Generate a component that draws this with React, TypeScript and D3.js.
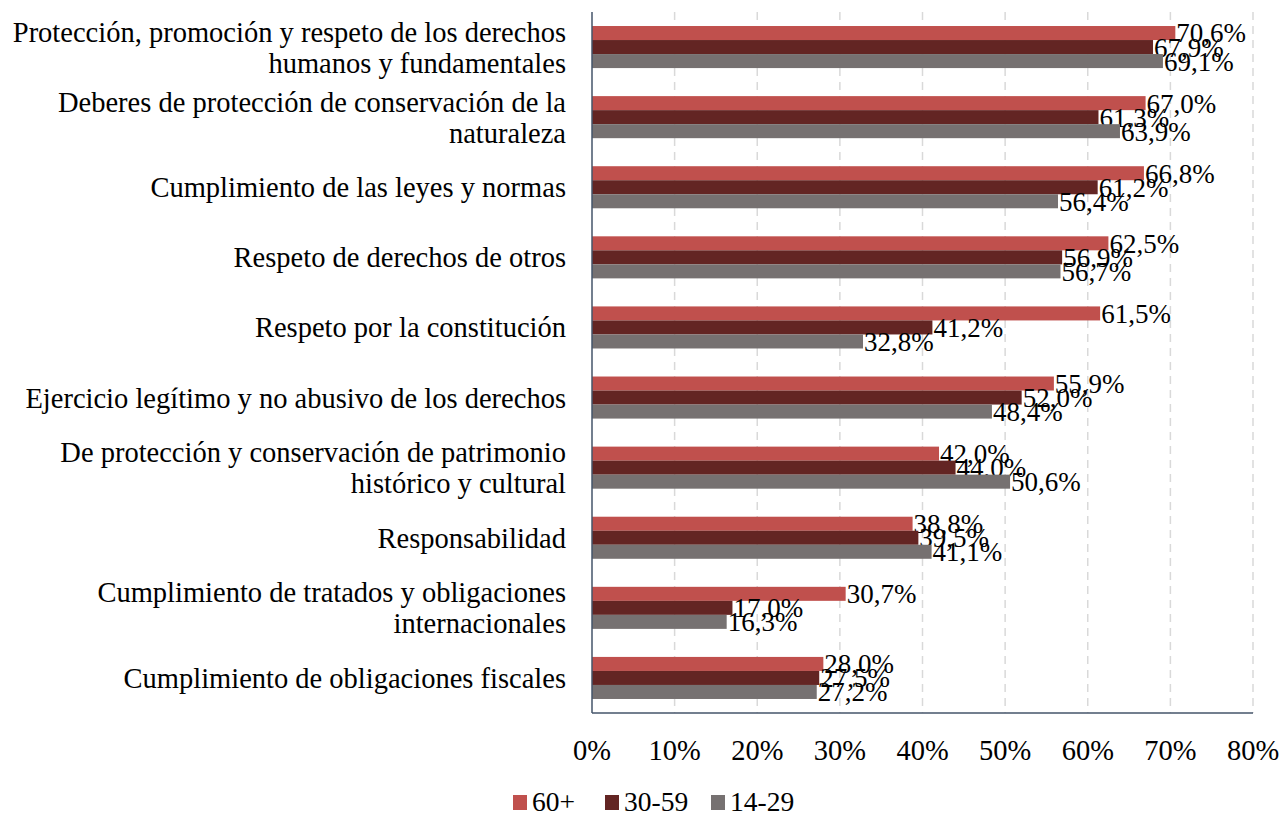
import React from "react";
import * as d3 from "d3";

const categories: string[][] = [
  ["Protección, promoción y respeto de los derechos", "humanos y fundamentales"],
  ["Deberes de protección de conservación de la", "naturaleza"],
  ["Cumplimiento de las leyes y normas"],
  ["Respeto de derechos de otros"],
  ["Respeto por la constitución"],
  ["Ejercicio legítimo y no abusivo de los derechos"],
  ["De protección y conservación de patrimonio", "histórico y cultural"],
  ["Responsabilidad"],
  ["Cumplimiento de tratados y obligaciones", "internacionales"],
  ["Cumplimiento de obligaciones fiscales"],
];

const seriesNames = ["60+", "30-59", "14-29"];
const v60 = [70.6, 67.0, 66.8, 62.5, 61.5, 55.9, 42.0, 38.8, 30.7, 28.0];
const v3059 = [67.9, 61.3, 61.2, 56.9, 41.2, 52.0, 44.0, 39.5, 17.0, 27.5];
const v1429 = [69.1, 63.9, 56.4, 56.7, 32.8, 48.4, 50.6, 41.1, 16.3, 27.2];
const colors = ["#C0504D", "#632523", "#767171"];
const ticks = [0, 10, 20, 30, 40, 50, 60, 70, 80];

const font = "'Liberation Serif', 'Times New Roman', serif";

export default function App() {
  const W = 1282, H = 816;
  const left = 592, right = 1253, top = 12, bottom = 713;
  const series = [v60, v3059, v1429];
  const x = d3.scaleLinear().domain([0, 80]).range([left, right]);
  const y = d3.scaleBand<number>().domain(d3.range(categories.length)).range([top, bottom]).paddingInner(0.4).paddingOuter(0.2);
  const inner = d3.scaleBand<number>().domain([0, 1, 2]).range([0, y.bandwidth()]);
  const fmt = (v: number) => v.toFixed(1).replace(".", ",") + "%";
  const legendX = [513, 605, 711];
  return (
    <svg width={W} height={H} style={{ position: "absolute", left: 0, top: 0, background: "#fff" }} fontFamily={font}>
      {ticks.slice(1).map((t) => (
        <line key={t} x1={x(t)} x2={x(t)} y1={top} y2={bottom} stroke="#d9d9d9" strokeWidth={1.5} strokeDasharray="8,6" />
      ))}
      {categories.map((c, i) => {
        const cy = (y(i) as number) + y.bandwidth() / 2;
        return (
          <g key={i}>
            {series.map((s, k) => {
              const by = (y(i) as number) + (inner(k) as number);
              return (
                <g key={k}>
                  <rect x={x(0)} y={by} width={x(s[i]) - x(0)} height={inner.bandwidth()} fill={colors[k]} />
                  <text x={x(s[i]) + 1} y={by + inner.bandwidth() / 2} dy="0.35em" fontSize={27} fill="#000">{fmt(s[i])}</text>
                </g>
              );
            })}
            {c.map((line, j) => (
              <text key={j} x={566} y={cy + (j - (c.length - 1) / 2) * 31} dy="0.35em" textAnchor="end" fontSize={28.5} fill="#000">{line}</text>
            ))}
          </g>
        );
      })}
      <line x1={left} x2={left} y1={top} y2={bottom} stroke="#44546A" strokeWidth={1.5} />
      <line x1={left} x2={right} y1={bottom} y2={bottom} stroke="#44546A" strokeWidth={1.5} />
      {ticks.map((t) => (
        <text key={t} x={x(t)} y={750} dy="0.35em" textAnchor="middle" fontSize={28.5} fill="#000">{t}%</text>
      ))}
      {seriesNames.map((n, k) => (
        <g key={n}>
          <rect x={legendX[k]} y={795} width={14} height={15} fill={colors[k]} />
          <text x={legendX[k] + 19} y={801} dy="0.35em" fontSize={27.5} fill="#000">{n}</text>
        </g>
      ))}
    </svg>
  );
}
